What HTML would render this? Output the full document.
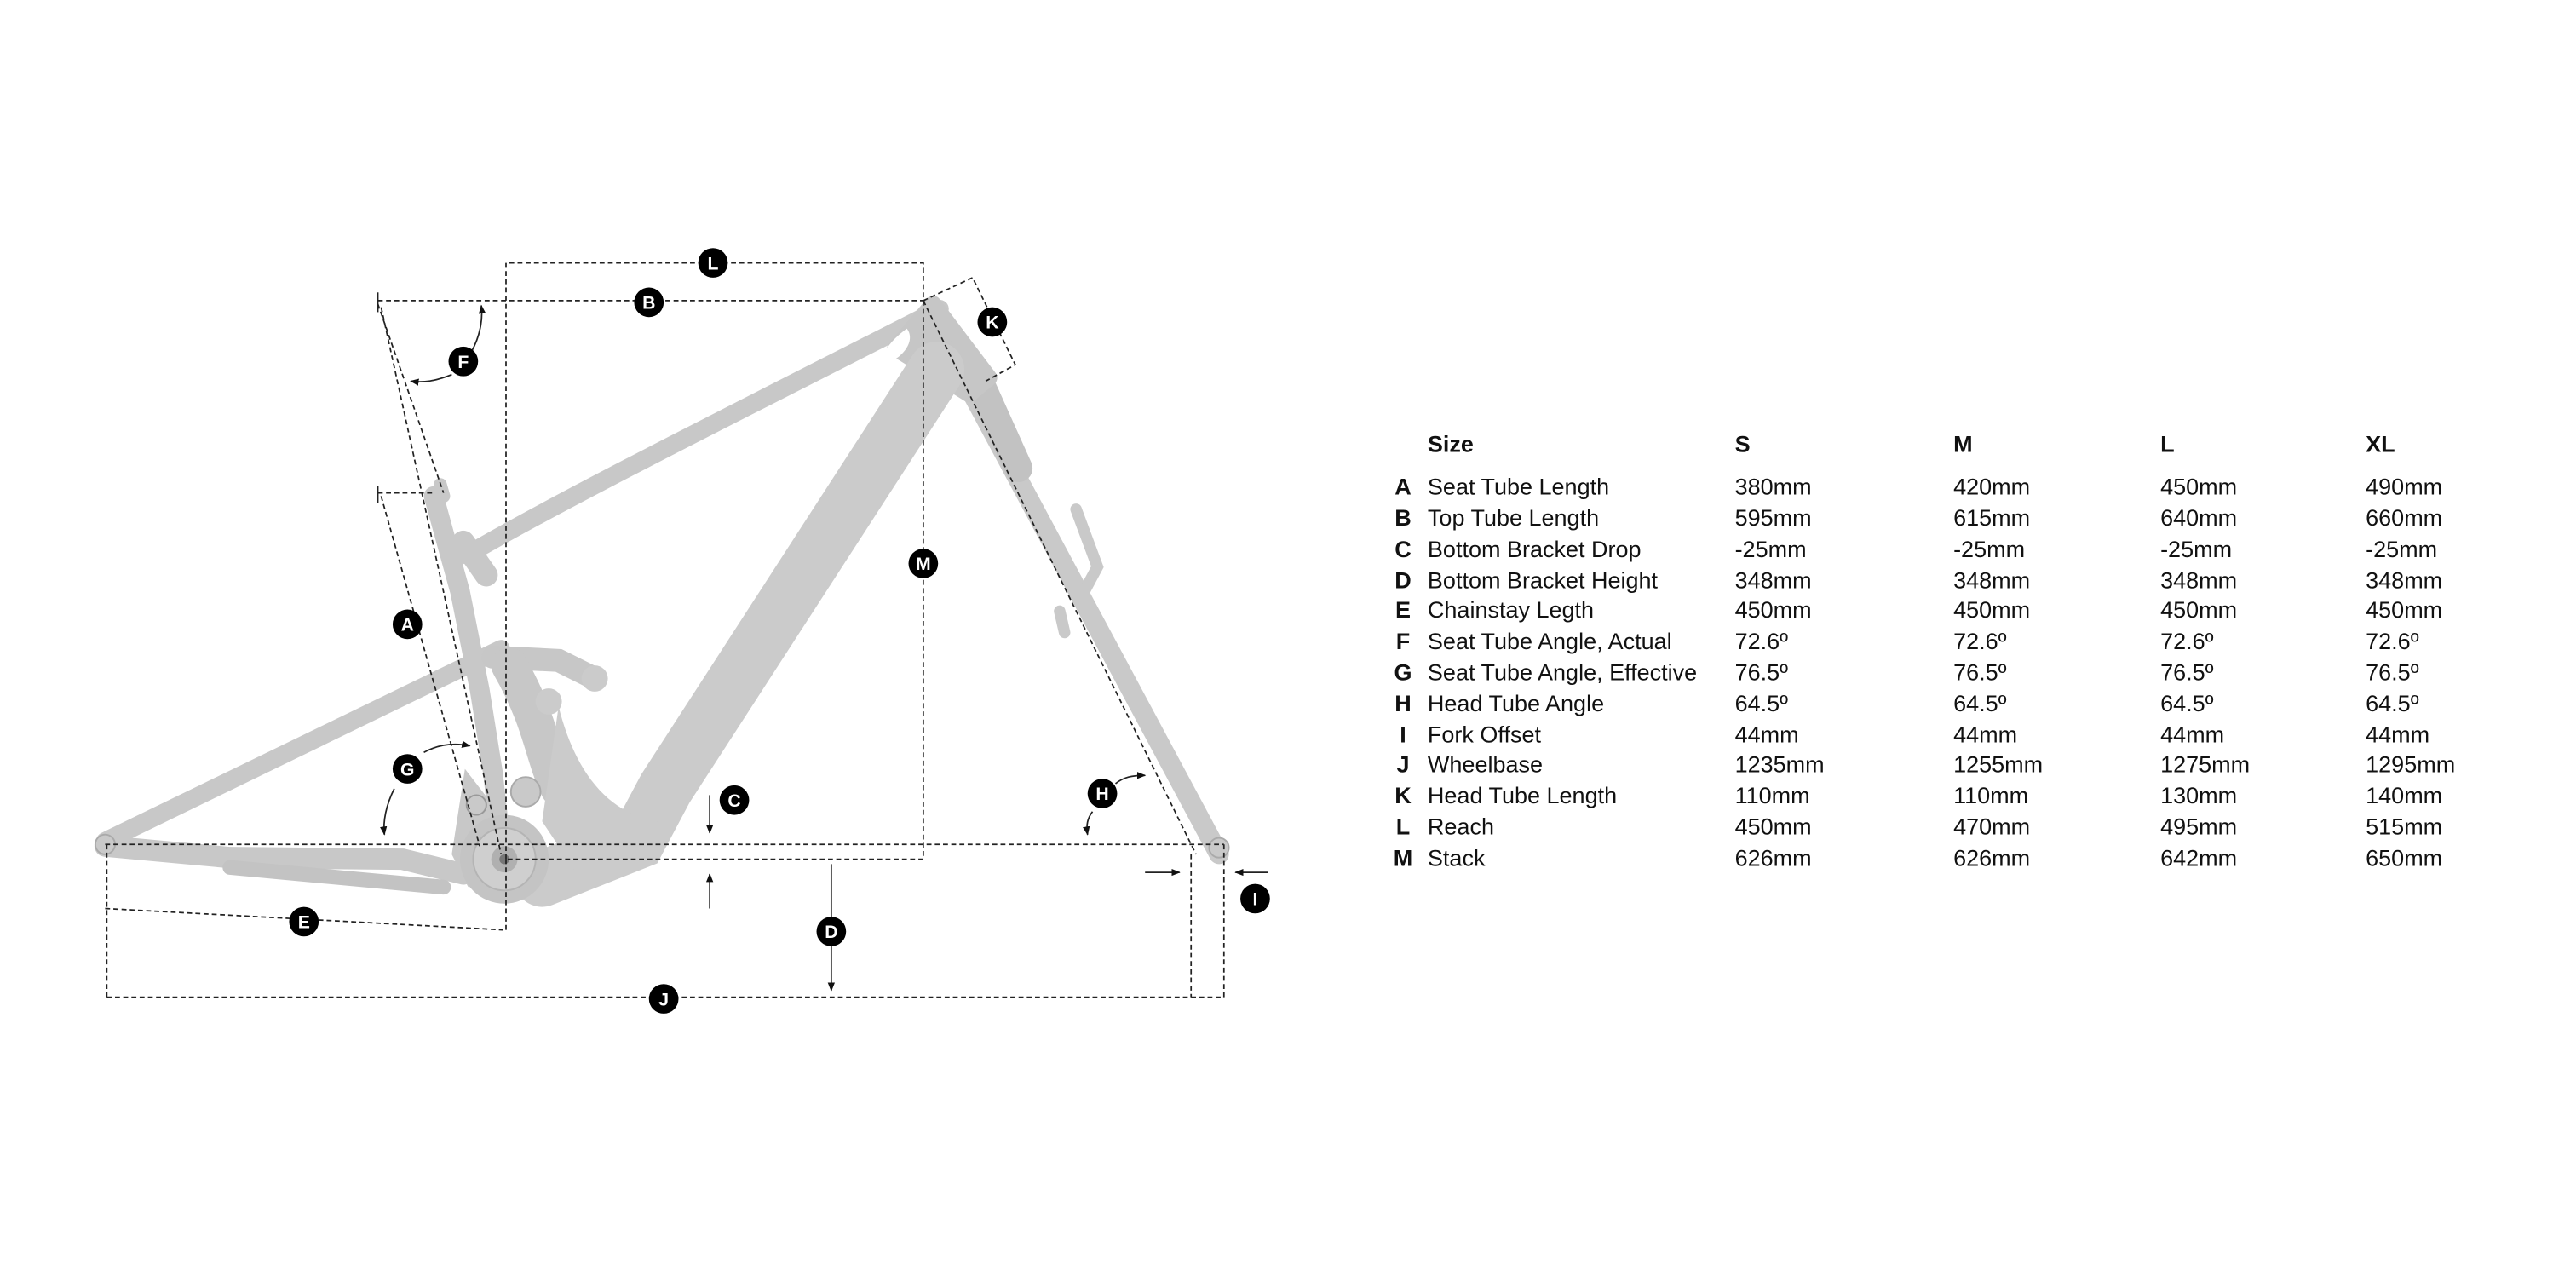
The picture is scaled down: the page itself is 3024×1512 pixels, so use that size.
<!DOCTYPE html>
<html><head><meta charset="utf-8"><style>
html,body{margin:0;padding:0;background:#fff;}
svg{display:block;}
text{font-family:"Liberation Sans Narrow","Liberation Sans",sans-serif;}
</style></head><body>
<svg width="3024" height="1512" viewBox="0 0 1568 784" xmlns="http://www.w3.org/2000/svg">
<defs>
<marker id="ar" viewBox="0 0 10 10" refX="9" refY="5" markerWidth="6" markerHeight="6" orient="auto-start-reverse"><path d="M0,1 L10,5 L0,9 z" fill="#111"/></marker>
</defs>
<rect width="1568" height="784" fill="#fff"/>
<!-- FRAME -->
<g stroke-linecap="round" fill="none">
  <!-- fork -->
  <line x1="592" y1="240" x2="742" y2="520" stroke="#c9c9c9" stroke-width="12"/>
  <line x1="598" y1="236" x2="620" y2="285" stroke="#c2c2c2" stroke-width="17"/>
  <path d="M655,310 L668,345 L660,360" stroke="#c9c9c9" stroke-width="7"/>
  <line x1="645" y1="372" x2="648" y2="385" stroke="#c9c9c9" stroke-width="7"/>
  <!-- seat stay -->
  <line x1="64" y1="512" x2="305" y2="395" stroke="#c8c8c8" stroke-width="11"/>
  <!-- chainstay -->
  <path d="M64,515 L140,522 L245,523 L282,532" stroke="#c8c8c8" stroke-width="13"/>
  <path d="M140,528 L270,540" stroke="#c3c3c3" stroke-width="9"/>
  <!-- seat tube -->
  <path d="M264,302 L280,360 L292,420 L300,470 L305,515" stroke="#c8c8c8" stroke-width="12"/>
  <line x1="270" y1="302" x2="268" y2="295" stroke="#c8c8c8" stroke-width="8"/>
  <!-- top tube -->
  <path d="M284,338 C340,305 460,245 572,188" stroke="#c8c8c8" stroke-width="11"/>
  <path d="M282,330 L296,350" stroke="#c8c8c8" stroke-width="14"/>
  <!-- head tube area -->
  <path d="M568,185 L545,212 L590,240 L602,230 Z" fill="#c6c6c6" stroke="#c6c6c6" stroke-width="10" stroke-linejoin="round"/>
  <!-- down tube -->
  <path d="M570,225 L405,480 L388,512 L330,535" stroke="#cbcbcb" stroke-width="34"/>
  <!-- motor housing / link -->
  <path d="M300,400 L340,402 L360,412" stroke="#c7c7c7" stroke-width="14"/>
  <path d="M310,405 C330,440 330,460 340,480" stroke="#c7c7c7" stroke-width="22"/>
  <circle cx="362" cy="413" r="8" fill="#cbcbcb" stroke="none"/>
  <circle cx="334" cy="427" r="8" fill="#cbcbcb" stroke="none"/>
</g>
<path d="M340,430 C350,470 370,495 400,500 L390,520 L350,530 L330,500 Z" fill="#cbcbcb"/>
<path d="M283,468 L300,490 L292,520 L285,540 L275,520 Z" fill="#c8c8c8"/>
<circle cx="307" cy="523" r="27" fill="#c4c4c4"/>
<circle cx="307" cy="523" r="19" fill="#cfcfcf" stroke="#b4b4b4" stroke-width="1"/>
<circle cx="307" cy="523" r="8" fill="#b0b0b0"/>
<circle cx="307" cy="523" r="3" fill="#777"/>
<circle cx="320" cy="482" r="9" fill="#c9c9c9" stroke="#aaa" stroke-width="1"/>
<circle cx="290" cy="490" r="6" fill="#c9c9c9" stroke="#999" stroke-width="1"/>
<circle cx="64" cy="514" r="6" fill="#c9c9c9" stroke="#aaa" stroke-width="1"/>
<circle cx="742" cy="516" r="6" fill="#c9c9c9" stroke="#aaa" stroke-width="1"/>
<path d="M552,200 C558,208 548,218 542,220 C533,222 538,210 552,200 Z" fill="#fff"/>

<!-- DIMENSION LINES -->
<g stroke="#222" stroke-width="0.9" stroke-dasharray="3,2" fill="none">
  <path d="M308,523 L308,160 L562,160 L562,523 L308,523"/>
  <line x1="308" y1="523" x2="308" y2="566"/>
  <line x1="230" y1="183" x2="565" y2="183"/>
  <line x1="230" y1="185" x2="270" y2="300"/>
  <line x1="232" y1="187" x2="305" y2="520"/>
  <line x1="230" y1="300" x2="265" y2="300"/>
  <line x1="232" y1="302" x2="292" y2="515"/>
  <line x1="64" y1="514" x2="745" y2="514"/>
  <line x1="64" y1="553" x2="306" y2="566"/>
  <line x1="65" y1="514" x2="65" y2="607"/>
  <line x1="65" y1="607" x2="745" y2="607"/>
  <line x1="725" y1="520" x2="725" y2="607"/>
  <line x1="745" y1="514" x2="745" y2="607"/>
  <path d="M562,183 L592,169 L618,222 L600,232"/>
  <line x1="562" y1="183" x2="728" y2="520"/>
</g>
<g stroke="#222" stroke-width="0.9" fill="none">
  <line x1="230" y1="178" x2="230" y2="190"/>
  <line x1="230" y1="296" x2="230" y2="306"/>
  <line x1="432" y1="484" x2="432" y2="507" marker-end="url(#ar)"/>
  <line x1="432" y1="553" x2="432" y2="532" marker-end="url(#ar)"/>
  <line x1="506" y1="526" x2="506" y2="603" marker-end="url(#ar)"/>
  <line x1="697" y1="531" x2="718" y2="531" marker-end="url(#ar)"/>
  <line x1="772" y1="531" x2="752" y2="531" marker-end="url(#ar)"/>
  <path d="M275,228 C265,232 258,233 250,232" marker-end="url(#ar)"/>
  <path d="M287,214 C292,205 294,195 293,186" marker-end="url(#ar)"/>
  <path d="M240,480 C235,490 233,500 234,508" marker-end="url(#ar)"/>
  <path d="M258,458 C267,453 276,452 286,454" marker-end="url(#ar)"/>
  <path d="M665,494 C662,498 661,502 662,508" marker-end="url(#ar)"/>
  <path d="M679,477 C684,473 689,472 697,472" marker-end="url(#ar)"/>
</g>
<!-- LABEL CIRCLES -->
<g font-size="11" font-weight="bold" fill="#fff" text-anchor="middle">
  <circle cx="434" cy="160" r="9" fill="#000"/><text x="434" y="164">L</text>
  <circle cx="395" cy="184" r="9" fill="#000"/><text x="395" y="188">B</text>
  <circle cx="604" cy="196" r="9" fill="#000"/><text x="604" y="200">K</text>
  <circle cx="282" cy="220" r="9" fill="#000"/><text x="282" y="224">F</text>
  <circle cx="562" cy="343" r="9" fill="#000"/><text x="562" y="347">M</text>
  <circle cx="248" cy="380" r="9" fill="#000"/><text x="248" y="384">A</text>
  <circle cx="248" cy="468" r="9" fill="#000"/><text x="248" y="472">G</text>
  <circle cx="447" cy="487" r="9" fill="#000"/><text x="447" y="491">C</text>
  <circle cx="671" cy="483" r="9" fill="#000"/><text x="671" y="487">H</text>
  <circle cx="185" cy="561" r="9" fill="#000"/><text x="185" y="565">E</text>
  <circle cx="506" cy="567" r="9" fill="#000"/><text x="506" y="571">D</text>
  <circle cx="404" cy="608" r="9" fill="#000"/><text x="404" y="612">J</text>
  <circle cx="764" cy="547" r="9" fill="#000"/><text x="764" y="551">I</text>
</g>
<!-- TABLE -->
<g font-size="14" fill="#111">
  <g font-weight="bold">
    <text x="869" y="275">Size</text><text x="1056" y="275">S</text><text x="1189" y="275">M</text><text x="1315" y="275">L</text><text x="1440" y="275">XL</text>
  </g>
  <g font-weight="bold" text-anchor="middle">
    <text x="854" y="301">A</text><text x="854" y="320">B</text><text x="854" y="339">C</text><text x="854" y="358">D</text><text x="854" y="376">E</text><text x="854" y="395">F</text><text x="854" y="414">G</text><text x="854" y="433">H</text><text x="854" y="452">I</text><text x="854" y="470">J</text><text x="854" y="489">K</text><text x="854" y="508">L</text><text x="854" y="527">M</text>
  </g>
  <g>
    <text x="869" y="301">Seat Tube Length</text><text x="1056" y="301">380mm</text><text x="1189" y="301">420mm</text><text x="1315" y="301">450mm</text><text x="1440" y="301">490mm</text>
    <text x="869" y="320">Top Tube Length</text><text x="1056" y="320">595mm</text><text x="1189" y="320">615mm</text><text x="1315" y="320">640mm</text><text x="1440" y="320">660mm</text>
    <text x="869" y="339">Bottom Bracket Drop</text><text x="1056" y="339">-25mm</text><text x="1189" y="339">-25mm</text><text x="1315" y="339">-25mm</text><text x="1440" y="339">-25mm</text>
    <text x="869" y="358">Bottom Bracket Height</text><text x="1056" y="358">348mm</text><text x="1189" y="358">348mm</text><text x="1315" y="358">348mm</text><text x="1440" y="358">348mm</text>
    <text x="869" y="376">Chainstay Legth</text><text x="1056" y="376">450mm</text><text x="1189" y="376">450mm</text><text x="1315" y="376">450mm</text><text x="1440" y="376">450mm</text>
    <text x="869" y="395">Seat Tube Angle, Actual</text><text x="1056" y="395">72.6º</text><text x="1189" y="395">72.6º</text><text x="1315" y="395">72.6º</text><text x="1440" y="395">72.6º</text>
    <text x="869" y="414">Seat Tube Angle, Effective</text><text x="1056" y="414">76.5º</text><text x="1189" y="414">76.5º</text><text x="1315" y="414">76.5º</text><text x="1440" y="414">76.5º</text>
    <text x="869" y="433">Head Tube Angle</text><text x="1056" y="433">64.5º</text><text x="1189" y="433">64.5º</text><text x="1315" y="433">64.5º</text><text x="1440" y="433">64.5º</text>
    <text x="869" y="452">Fork Offset</text><text x="1056" y="452">44mm</text><text x="1189" y="452">44mm</text><text x="1315" y="452">44mm</text><text x="1440" y="452">44mm</text>
    <text x="869" y="470">Wheelbase</text><text x="1056" y="470">1235mm</text><text x="1189" y="470">1255mm</text><text x="1315" y="470">1275mm</text><text x="1440" y="470">1295mm</text>
    <text x="869" y="489">Head Tube Length</text><text x="1056" y="489">110mm</text><text x="1189" y="489">110mm</text><text x="1315" y="489">130mm</text><text x="1440" y="489">140mm</text>
    <text x="869" y="508">Reach</text><text x="1056" y="508">450mm</text><text x="1189" y="508">470mm</text><text x="1315" y="508">495mm</text><text x="1440" y="508">515mm</text>
    <text x="869" y="527">Stack</text><text x="1056" y="527">626mm</text><text x="1189" y="527">626mm</text><text x="1315" y="527">642mm</text><text x="1440" y="527">650mm</text>
  </g>
</g>
</svg>
</body></html>
